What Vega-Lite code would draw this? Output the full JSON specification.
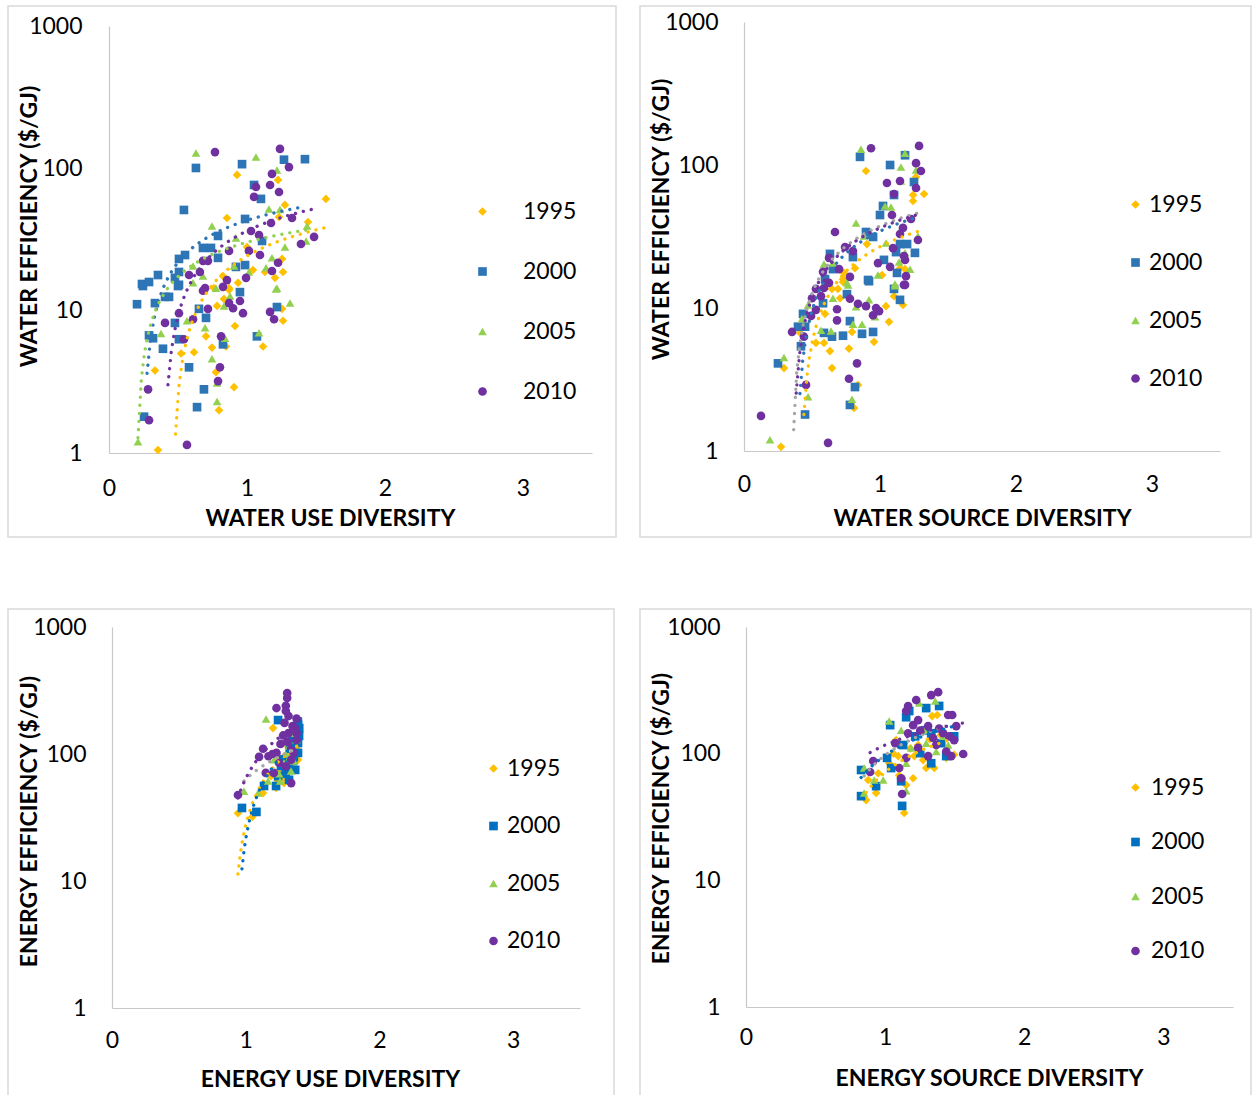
{
  "$schema": "https://vega.github.io/schema/vega-lite/v6.json",
  "padding": {"left": 7, "top": 5, "right": 0, "bottom": 0},
  "autosize": {"type": "pad"},
  "spacing": 70,
  "resolve": {"scale": {"x": "independent", "y": "independent", "color": "independent", "shape": "independent", "stroke": "independent"}, "legend": {"color": "independent", "shape": "independent"}},
  "datasets": {
    "tl": [
      {"yr":"1995","d":0.928,"e":89.9},{"yr":"1995","d":1.225,"e":82.9},{"yr":"1995","d":1.572,"e":61.0},{"yr":"1995","d":1.275,"e":55.3},{"yr":"1995","d":0.855,"e":44.8},{"yr":"1995","d":1.232,"e":45.5},{"yr":"1995","d":1.442,"e":42.0},{"yr":"1995","d":1.0,"e":28.0},{"yr":"1995","d":1.254,"e":23.1},{"yr":"1995","d":0.935,"e":15.7},{"yr":"1995","d":1.203,"e":17.0},{"yr":"1995","d":1.261,"e":18.7},{"yr":"1995","d":0.826,"e":17.5},{"yr":"1995","d":0.870,"e":14.4},{"yr":"1995","d":0.761,"e":14.4},{"yr":"1995","d":1.043,"e":19.3},{"yr":"1995","d":1.13,"e":18.7},{"yr":"1995","d":0.87,"e":14.0},{"yr":"1995","d":0.833,"e":12.1},{"yr":"1995","d":0.783,"e":10.8},{"yr":"1995","d":1.254,"e":10.3},{"yr":"1995","d":1.261,"e":8.5},{"yr":"1995","d":0.913,"e":7.8},{"yr":"1995","d":0.703,"e":6.6},{"yr":"1995","d":0.848,"e":5.6},{"yr":"1995","d":1.116,"e":5.6},{"yr":"1995","d":0.746,"e":5.5},{"yr":"1995","d":0.616,"e":5.1},{"yr":"1995","d":0.522,"e":5.0},{"yr":"1995","d":0.333,"e":3.8},{"yr":"1995","d":0.775,"e":3.7},{"yr":"1995","d":0.906,"e":2.9},{"yr":"1995","d":0.797,"e":2.0},{"yr":"1995","d":0.355,"e":1.05},
      {"yr":"2000","d":0.630,"e":100.6},{"yr":"2000","d":0.964,"e":107},{"yr":"2000","d":1.268,"e":115},{"yr":"2000","d":1.420,"e":116},{"yr":"2000","d":1.051,"e":76.4},{"yr":"2000","d":1.101,"e":61.0},{"yr":"2000","d":0.543,"e":51.0},{"yr":"2000","d":0.986,"e":44.1},{"yr":"2000","d":0.790,"e":33.5},{"yr":"2000","d":0.681,"e":27.6},{"yr":"2000","d":0.739,"e":27.6},{"yr":"2000","d":0.551,"e":24.6},{"yr":"2000","d":0.507,"e":23.1},{"yr":"2000","d":0.790,"e":23.5},{"yr":"2000","d":1.109,"e":30.9},{"yr":"2000","d":0.507,"e":18.7},{"yr":"2000","d":0.355,"e":17.8},{"yr":"2000","d":0.478,"e":17.0},{"yr":"2000","d":0.290,"e":15.9},{"yr":"2000","d":0.239,"e":15.4},{"yr":"2000","d":0.507,"e":15.2},{"yr":"2000","d":0.986,"e":20.9},{"yr":"2000","d":0.920,"e":20.3},{"yr":"2000","d":0.246,"e":14.9},{"yr":"2000","d":0.5,"e":14.9},{"yr":"2000","d":0.203,"e":11.1},{"yr":"2000","d":0.333,"e":11.3},{"yr":"2000","d":0.406,"e":12.5},{"yr":"2000","d":0.435,"e":12.5},{"yr":"2000","d":0.949,"e":13.5},{"yr":"2000","d":1.217,"e":10.6},{"yr":"2000","d":0.703,"e":8.9},{"yr":"2000","d":0.652,"e":10.3},{"yr":"2000","d":0.478,"e":8.2},{"yr":"2000","d":0.290,"e":6.7},{"yr":"2000","d":0.319,"e":6.4},{"yr":"2000","d":0.507,"e":6.3},{"yr":"2000","d":1.072,"e":6.6},{"yr":"2000","d":0.826,"e":5.8},{"yr":"2000","d":0.391,"e":5.4},{"yr":"2000","d":0.580,"e":4.0},{"yr":"2000","d":0.688,"e":2.8},{"yr":"2000","d":0.638,"e":2.1},{"yr":"2000","d":0.254,"e":1.8},
      {"yr":"2005","d":0.630,"e":128},{"yr":"2005","d":1.065,"e":120},{"yr":"2005","d":1.217,"e":97.4},{"yr":"2005","d":1.159,"e":51.8},{"yr":"2005","d":1.239,"e":51.4},{"yr":"2005","d":0.746,"e":39.4},{"yr":"2005","d":1.435,"e":39.4},{"yr":"2005","d":0.920,"e":32.4},{"yr":"2005","d":1.275,"e":28.0},{"yr":"2005","d":1.428,"e":30.9},{"yr":"2005","d":1.181,"e":23.5},{"yr":"2005","d":0.609,"e":20.6},{"yr":"2005","d":1.138,"e":20.0},{"yr":"2005","d":1.014,"e":18.7},{"yr":"2005","d":0.681,"e":17.5},{"yr":"2005","d":1.217,"e":14.4},{"yr":"2005","d":0.906,"e":20.6},{"yr":"2005","d":0.609,"e":15.7},{"yr":"2005","d":1.210,"e":14.2},{"yr":"2005","d":1.312,"e":11.3},{"yr":"2005","d":0.775,"e":14.4},{"yr":"2005","d":0.877,"e":12.7},{"yr":"2005","d":0.833,"e":10.8},{"yr":"2005","d":0.565,"e":8.5},{"yr":"2005","d":0.696,"e":7.6},{"yr":"2005","d":0.377,"e":6.9},{"yr":"2005","d":1.087,"e":7.0},{"yr":"2005","d":0.841,"e":6.4},{"yr":"2005","d":0.746,"e":4.6},{"yr":"2005","d":0.783,"e":3.1},{"yr":"2005","d":0.783,"e":2.3},{"yr":"2005","d":0.210,"e":1.2},
      {"yr":"2010","d":0.768,"e":130},{"yr":"2010","d":1.239,"e":137},{"yr":"2010","d":1.304,"e":102},{"yr":"2010","d":1.181,"e":91.4},{"yr":"2010","d":1.065,"e":74.0},{"yr":"2010","d":1.167,"e":76.4},{"yr":"2010","d":1.232,"e":68.2},{"yr":"2010","d":1.051,"e":63.0},{"yr":"2010","d":1.326,"e":44.8},{"yr":"2010","d":1.174,"e":41.3},{"yr":"2010","d":1.486,"e":33.0},{"yr":"2010","d":1.391,"e":29.4},{"yr":"2010","d":1.029,"e":36.3},{"yr":"2010","d":1.087,"e":34.0},{"yr":"2010","d":0.870,"e":26.3},{"yr":"2010","d":1.014,"e":26.3},{"yr":"2010","d":1.094,"e":24.6},{"yr":"2010","d":0.681,"e":22.4},{"yr":"2010","d":0.717,"e":22.4},{"yr":"2010","d":1.225,"e":21.7},{"yr":"2010","d":1.181,"e":19.0},{"yr":"2010","d":0.659,"e":18.7},{"yr":"2010","d":0.580,"e":17.8},{"yr":"2010","d":0.993,"e":17.0},{"yr":"2010","d":0.855,"e":16.4},{"yr":"2010","d":0.826,"e":14.7},{"yr":"2010","d":0.696,"e":14.4},{"yr":"2010","d":0.681,"e":13.8},{"yr":"2010","d":0.870,"e":11.3},{"yr":"2010","d":0.949,"e":11.7},{"yr":"2010","d":0.971,"e":9.6},{"yr":"2010","d":0.899,"e":10.4},{"yr":"2010","d":0.717,"e":10.3},{"yr":"2010","d":1.167,"e":9.8},{"yr":"2010","d":1.196,"e":8.7},{"yr":"2010","d":0.609,"e":8.7},{"yr":"2010","d":0.507,"e":9.6},{"yr":"2010","d":0.406,"e":8.2},{"yr":"2010","d":0.812,"e":6.6},{"yr":"2010","d":0.543,"e":6.3},{"yr":"2010","d":0.804,"e":4.0},{"yr":"2010","d":0.790,"e":3.2},{"yr":"2010","d":0.283,"e":2.8},{"yr":"2010","d":0.290,"e":1.7},{"yr":"2010","d":0.565,"e":1.14}
    ],
    "tr": [
      {"yr":"1995","d":0.897,"e":90.8},{"yr":"1995","d":1.265,"e":82.4},{"yr":"1995","d":1.324,"e":62.7},{"yr":"1995","d":1.243,"e":61.7},{"yr":"1995","d":1.243,"e":56.0},{"yr":"1995","d":0.904,"e":28.0},{"yr":"1995","d":0.816,"e":19.0},{"yr":"1995","d":0.735,"e":17.6},{"yr":"1995","d":1.015,"e":17.0},{"yr":"1995","d":1.147,"e":19.0},{"yr":"1995","d":1.184,"e":18.7},{"yr":"1995","d":0.728,"e":15.9},{"yr":"1995","d":0.728,"e":15.2},{"yr":"1995","d":0.647,"e":13.6},{"yr":"1995","d":0.691,"e":13.6},{"yr":"1995","d":0.706,"e":11.7},{"yr":"1995","d":1.103,"e":12.1},{"yr":"1995","d":1.169,"e":10.5},{"yr":"1995","d":1.044,"e":10.3},{"yr":"1995","d":0.596,"e":9.1},{"yr":"1995","d":1.066,"e":8.0},{"yr":"1995","d":0.794,"e":6.8},{"yr":"1995","d":0.412,"e":6.7},{"yr":"1995","d":0.956,"e":5.8},{"yr":"1995","d":0.588,"e":5.7},{"yr":"1995","d":0.529,"e":5.7},{"yr":"1995","d":0.632,"e":5.0},{"yr":"1995","d":0.772,"e":5.2},{"yr":"1995","d":0.294,"e":3.8},{"yr":"1995","d":0.647,"e":3.8},{"yr":"1995","d":0.838,"e":2.9},{"yr":"1995","d":0.809,"e":2.0},{"yr":"1995","d":0.272,"e":1.07},
      {"yr":"2000","d":0.853,"e":114},{"yr":"2000","d":1.074,"e":100},{"yr":"2000","d":1.184,"e":117},{"yr":"2000","d":1.25,"e":76},{"yr":"2000","d":1.103,"e":61.7},{"yr":"2000","d":1.022,"e":51.7},{"yr":"2000","d":1.0,"e":44.7},{"yr":"2000","d":0.897,"e":34.0},{"yr":"2000","d":0.949,"e":31.4},{"yr":"2000","d":1.147,"e":28.0},{"yr":"2000","d":1.199,"e":28.0},{"yr":"2000","d":1.118,"e":24.6},{"yr":"2000","d":1.257,"e":24.3},{"yr":"2000","d":0.632,"e":23.9},{"yr":"2000","d":0.801,"e":22.7},{"yr":"2000","d":1.029,"e":21.7},{"yr":"2000","d":0.654,"e":18.7},{"yr":"2000","d":1.125,"e":17.6},{"yr":"2000","d":0.912,"e":15.7},{"yr":"2000","d":0.596,"e":15.9},{"yr":"2000","d":0.919,"e":15.4},{"yr":"2000","d":1.103,"e":13.6},{"yr":"2000","d":1.147,"e":11.4},{"yr":"2000","d":0.757,"e":12.5},{"yr":"2000","d":0.581,"e":10.8},{"yr":"2000","d":0.434,"e":9.1},{"yr":"2000","d":0.397,"e":7.4},{"yr":"2000","d":0.449,"e":7.4},{"yr":"2000","d":0.779,"e":8.1},{"yr":"2000","d":0.588,"e":6.7},{"yr":"2000","d":0.647,"e":6.3},{"yr":"2000","d":0.728,"e":6.4},{"yr":"2000","d":0.868,"e":6.6},{"yr":"2000","d":0.949,"e":6.8},{"yr":"2000","d":0.419,"e":5.4},{"yr":"2000","d":0.25,"e":4.1},{"yr":"2000","d":0.816,"e":2.8},{"yr":"2000","d":0.779,"e":2.1},{"yr":"2000","d":0.449,"e":1.8},
      {"yr":"2005","d":0.860,"e":129},{"yr":"2005","d":1.184,"e":121},{"yr":"2005","d":1.154,"e":96.8},{"yr":"2005","d":1.265,"e":92.3},{"yr":"2005","d":1.154,"e":77.3},{"yr":"2005","d":1.037,"e":51.7},{"yr":"2005","d":1.081,"e":50.8},{"yr":"2005","d":0.824,"e":39.3},{"yr":"2005","d":0.882,"e":31.9},{"yr":"2005","d":1.044,"e":28.5},{"yr":"2005","d":1.279,"e":31.9},{"yr":"2005","d":0.588,"e":20.3},{"yr":"2005","d":0.654,"e":20.6},{"yr":"2005","d":1.140,"e":21.0},{"yr":"2005","d":1.184,"e":24.3},{"yr":"2005","d":1.221,"e":18.7},{"yr":"2005","d":0.985,"e":17.0},{"yr":"2005","d":0.757,"e":15.0},{"yr":"2005","d":1.110,"e":14.7},{"yr":"2005","d":0.765,"e":14.5},{"yr":"2005","d":1.110,"e":14.3},{"yr":"2005","d":0.654,"e":11.7},{"yr":"2005","d":0.919,"e":11.4},{"yr":"2005","d":0.471,"e":10.5},{"yr":"2005","d":0.824,"e":10.2},{"yr":"2005","d":0.963,"e":8.7},{"yr":"2005","d":0.426,"e":8.4},{"yr":"2005","d":0.801,"e":7.7},{"yr":"2005","d":0.868,"e":7.7},{"yr":"2005","d":0.566,"e":7.0},{"yr":"2005","d":0.640,"e":6.9},{"yr":"2005","d":0.294,"e":4.5},{"yr":"2005","d":0.471,"e":2.4},{"yr":"2005","d":0.794,"e":2.3},{"yr":"2005","d":0.191,"e":1.2},
      {"yr":"2010","d":0.934,"e":131},{"yr":"2010","d":1.287,"e":136},{"yr":"2010","d":1.265,"e":103},{"yr":"2010","d":1.301,"e":90.8},{"yr":"2010","d":1.147,"e":77.3},{"yr":"2010","d":1.051,"e":74.8},{"yr":"2010","d":1.265,"e":69.0},{"yr":"2010","d":1.103,"e":62.7},{"yr":"2010","d":1.088,"e":44.7},{"yr":"2010","d":1.228,"e":41.9},{"yr":"2010","d":1.169,"e":36.3},{"yr":"2010","d":1.147,"e":32.9},{"yr":"2010","d":0.669,"e":34.0},{"yr":"2010","d":1.279,"e":29.9},{"yr":"2010","d":0.743,"e":26.7},{"yr":"2010","d":0.801,"e":25.0},{"yr":"2010","d":1.096,"e":26.2},{"yr":"2010","d":0.625,"e":22.4},{"yr":"2010","d":1.176,"e":23.1},{"yr":"2010","d":1.184,"e":21.7},{"yr":"2010","d":0.985,"e":20.6},{"yr":"2010","d":1.074,"e":19.4},{"yr":"2010","d":0.581,"e":17.9},{"yr":"2010","d":0.699,"e":18.7},{"yr":"2010","d":0.779,"e":16.5},{"yr":"2010","d":1.191,"e":16.7},{"yr":"2010","d":1.184,"e":14.5},{"yr":"2010","d":0.603,"e":15.0},{"yr":"2010","d":0.529,"e":13.6},{"yr":"2010","d":0.588,"e":13.8},{"yr":"2010","d":0.625,"e":15.0},{"yr":"2010","d":1.176,"e":14.5},{"yr":"2010","d":0.5,"e":11.7},{"yr":"2010","d":0.566,"e":12.1},{"yr":"2010","d":0.779,"e":11.6},{"yr":"2010","d":0.838,"e":10.7},{"yr":"2010","d":0.897,"e":10.3},{"yr":"2010","d":0.971,"e":10.0},{"yr":"2010","d":0.993,"e":9.5},{"yr":"2010","d":0.949,"e":8.9},{"yr":"2010","d":0.684,"e":9.8},{"yr":"2010","d":0.529,"e":9.7},{"yr":"2010","d":0.493,"e":8.8},{"yr":"2010","d":0.684,"e":8.2},{"yr":"2010","d":0.353,"e":6.8},{"yr":"2010","d":0.441,"e":6.3},{"yr":"2010","d":0.831,"e":4.1},{"yr":"2010","d":0.772,"e":3.2},{"yr":"2010","d":0.456,"e":2.9},{"yr":"2010","d":0.125,"e":1.76},{"yr":"2010","d":0.618,"e":1.14}
    ],
    "bl": [
      {"yr":"1995","d":0.942,"e":34.2},{"yr":"1995","d":1.05,"e":32},{"yr":"1995","d":1.129,"e":49.2},{"yr":"1995","d":1.227,"e":54},{"yr":"1995","d":1.286,"e":59},{"yr":"1995","d":1.339,"e":78},{"yr":"1995","d":1.391,"e":90},{"yr":"1995","d":1.301,"e":98},{"yr":"1995","d":1.376,"e":122},{"yr":"1995","d":1.249,"e":88},{"yr":"1995","d":1.189,"e":67},{"yr":"1995","d":1.354,"e":118},{"yr":"1995","d":1.204,"e":160},{"yr":"1995","d":1.32,"e":112},{"yr":"1995","d":1.37,"e":105},{"yr":"1995","d":1.28,"e":66},{"yr":"1995","d":1.35,"e":85},{"yr":"1995","d":1.31,"e":82},{"yr":"1995","d":1.26,"e":75},{"yr":"1995","d":1.38,"e":110},{"yr":"1995","d":1.24,"e":62},{"yr":"1995","d":1.38,"e":150},{"yr":"1995","d":1.39,"e":170},{"yr":"1995","d":1.37,"e":135},{"yr":"1995","d":1.36,"e":125},{"yr":"1995","d":1.39,"e":140},
      {"yr":"2000","d":0.972,"e":37.6},{"yr":"2000","d":1.08,"e":35},{"yr":"2000","d":1.137,"e":56},{"yr":"2000","d":1.227,"e":56},{"yr":"2000","d":1.242,"e":67},{"yr":"2000","d":1.324,"e":62.6},{"yr":"2000","d":1.316,"e":78},{"yr":"2000","d":1.264,"e":80.5},{"yr":"2000","d":1.354,"e":88},{"yr":"2000","d":1.391,"e":102},{"yr":"2000","d":1.391,"e":122},{"yr":"2000","d":1.399,"e":139},{"yr":"2000","d":1.391,"e":170},{"yr":"2000","d":1.242,"e":185},{"yr":"2000","d":1.30,"e":70},{"yr":"2000","d":1.36,"e":95},{"yr":"2000","d":1.33,"e":110},{"yr":"2000","d":1.28,"e":90},{"yr":"2000","d":1.37,"e":75},{"yr":"2000","d":1.35,"e":130},{"yr":"2000","d":1.39,"e":150},{"yr":"2000","d":1.40,"e":160},{"yr":"2000","d":1.38,"e":135},{"yr":"2000","d":1.39,"e":180},
      {"yr":"2005","d":0.987,"e":51},{"yr":"2005","d":1.092,"e":49.2},{"yr":"2005","d":1.167,"e":61.4},{"yr":"2005","d":1.257,"e":61.4},{"yr":"2005","d":1.339,"e":73.6},{"yr":"2005","d":1.286,"e":85},{"yr":"2005","d":1.212,"e":90},{"yr":"2005","d":1.264,"e":122},{"yr":"2005","d":1.324,"e":115},{"yr":"2005","d":1.354,"e":146},{"yr":"2005","d":1.152,"e":189},{"yr":"2005","d":1.30,"e":100},{"yr":"2005","d":1.36,"e":88},{"yr":"2005","d":1.33,"e":95},{"yr":"2005","d":1.38,"e":130},{"yr":"2005","d":1.25,"e":70},
      {"yr":"2010","d":0.942,"e":47.5},{"yr":"2010","d":1.10,"e":95},{"yr":"2010","d":1.15,"e":71},{"yr":"2010","d":1.21,"e":71},{"yr":"2010","d":1.17,"e":96},{"yr":"2010","d":1.23,"e":102},{"yr":"2010","d":1.30,"e":80},{"yr":"2010","d":1.34,"e":90},{"yr":"2010","d":1.34,"e":111},{"yr":"2010","d":1.38,"e":129},{"yr":"2010","d":1.32,"e":146},{"yr":"2010","d":1.35,"e":166},{"yr":"2010","d":1.32,"e":199},{"yr":"2010","d":1.30,"e":218},{"yr":"2010","d":1.23,"e":230},{"yr":"2010","d":1.31,"e":276},{"yr":"2010","d":1.31,"e":302},{"yr":"2010","d":1.38,"e":190},{"yr":"2010","d":1.29,"e":176},{"yr":"2010","d":1.38,"e":146},{"yr":"2010","d":1.26,"e":120},{"yr":"2010","d":1.36,"e":102},{"yr":"2010","d":1.25,"e":85},{"yr":"2010","d":1.13,"e":110},{"yr":"2010","d":1.20,"e":100},{"yr":"2010","d":1.34,"e":59},{"yr":"2010","d":1.31,"e":125},{"yr":"2010","d":1.37,"e":160},{"yr":"2010","d":1.28,"e":140},{"yr":"2010","d":1.30,"e":240}
    ],
    "br": [
      {"yr":"1995","d":1.338,"e":198},{"yr":"1995","d":1.374,"e":202},{"yr":"1995","d":1.079,"e":128},{"yr":"1995","d":1.209,"e":95.7},{"yr":"1995","d":1.353,"e":77},{"yr":"1995","d":1.094,"e":95.7},{"yr":"1995","d":0.878,"e":62},{"yr":"1995","d":0.935,"e":49},{"yr":"1995","d":1.201,"e":64},{"yr":"1995","d":1.151,"e":56.5},{"yr":"1995","d":1.137,"e":34},{"yr":"1995","d":1.101,"e":67.5},{"yr":"1995","d":1.029,"e":84},{"yr":"1995","d":0.863,"e":43},{"yr":"1995","d":1.439,"e":92.6},{"yr":"1995","d":1.237,"e":117},{"yr":"1995","d":1.295,"e":77},{"yr":"1995","d":1.496,"e":98},{"yr":"1995","d":1.273,"e":89},{"yr":"1995","d":1.18,"e":110},{"yr":"1995","d":1.32,"e":130},{"yr":"1995","d":1.40,"e":140},{"yr":"1995","d":0.95,"e":70},{"yr":"1995","d":1.06,"e":100},
      {"yr":"2000","d":1.388,"e":238},{"yr":"2000","d":1.295,"e":229},{"yr":"2000","d":1.173,"e":217},{"yr":"2000","d":1.151,"e":194},{"yr":"2000","d":1.036,"e":168},{"yr":"2000","d":1.288,"e":153},{"yr":"2000","d":1.331,"e":145},{"yr":"2000","d":1.216,"e":137},{"yr":"2000","d":1.014,"e":92.6},{"yr":"2000","d":1.439,"e":95.7},{"yr":"2000","d":1.331,"e":84},{"yr":"2000","d":1.129,"e":117},{"yr":"2000","d":0.827,"e":74.3},{"yr":"2000","d":1.043,"e":77},{"yr":"2000","d":1.115,"e":60.6},{"yr":"2000","d":0.935,"e":55.4},{"yr":"2000","d":0.827,"e":46.2},{"yr":"2000","d":1.122,"e":38.7},{"yr":"2000","d":1.252,"e":101},{"yr":"2000","d":1.403,"e":121},{"yr":"2000","d":1.496,"e":137},
      {"yr":"2005","d":1.245,"e":251},{"yr":"2005","d":1.360,"e":260},{"yr":"2005","d":1.029,"e":181},{"yr":"2005","d":1.115,"e":153},{"yr":"2005","d":1.281,"e":153},{"yr":"2005","d":1.417,"e":137},{"yr":"2005","d":1.187,"e":111},{"yr":"2005","d":1.367,"e":104},{"yr":"2005","d":1.151,"e":84},{"yr":"2005","d":0.921,"e":62},{"yr":"2005","d":0.986,"e":62},{"yr":"2005","d":0.849,"e":49},{"yr":"2005","d":1.151,"e":51},{"yr":"2005","d":1.453,"e":117},{"yr":"2005","d":1.295,"e":121},{"yr":"2005","d":0.849,"e":77},
      {"yr":"2010","d":1.331,"e":290},{"yr":"2010","d":1.381,"e":306},{"yr":"2010","d":1.223,"e":265},{"yr":"2010","d":1.165,"e":238},{"yr":"2010","d":1.151,"e":217},{"yr":"2010","d":1.237,"e":184},{"yr":"2010","d":1.201,"e":168},{"yr":"2010","d":1.309,"e":165},{"yr":"2010","d":1.453,"e":202},{"yr":"2010","d":1.482,"e":202},{"yr":"2010","d":1.511,"e":165},{"yr":"2010","d":1.165,"e":145},{"yr":"2010","d":1.252,"e":152},{"yr":"2010","d":1.388,"e":158},{"yr":"2010","d":1.345,"e":133},{"yr":"2010","d":1.460,"e":137},{"yr":"2010","d":1.496,"e":128},{"yr":"2010","d":1.237,"e":111},{"yr":"2010","d":1.309,"e":95.7},{"yr":"2010","d":1.151,"e":92.6},{"yr":"2010","d":1.101,"e":77},{"yr":"2010","d":1.439,"e":104},{"yr":"2010","d":1.561,"e":99.4},{"yr":"2010","d":1.475,"e":95.7},{"yr":"2010","d":1.115,"e":64},{"yr":"2010","d":0.914,"e":87.5},{"yr":"2010","d":0.892,"e":71.6},{"yr":"2010","d":1.122,"e":48},{"yr":"2010","d":1.072,"e":121},{"yr":"2010","d":1.417,"e":145},{"yr":"2010","d":1.367,"e":117}
    ]
  },
  "vconcat": [
    {
      "hconcat": [
        {
          "width": 608, "height": 531,
          "data": {"name": "tl"},
          "encoding": {
            "x": {"field": "d", "type": "quantitative", "scale": {"domain": [0, 3.5], "range": [101, 584], "nice": false, "zero": false}, "axis": {"values": [0, 1, 2, 3], "format": "d", "title": "WATER USE DIVERSITY", "offset": -84, "labelPadding": 24, "titleX": 322, "titleY": 65, "titleBaseline": "middle"}},
            "y": {"field": "e", "type": "quantitative", "scale": {"type": "log", "domain": [1, 1000], "range": [447, 20], "nice": false}, "axis": {"values": [1, 10, 100, 1000], "format": "d", "title": "WATER EFFICIENCY ($/GJ)", "offset": -101, "labelPadding": 27, "titleX": -80, "titleY": 220, "titleBaseline": "middle"}}
          },
          "layer": [
            {
              "mark": {"type": "point", "filled": true, "size": 75, "opacity": 1},
              "encoding": {
                "color": {"field": "yr", "type": "nominal", "scale": {"domain": ["1995", "2000", "2005", "2010"], "range": ["#FFC000", "#2E75B6", "#92D050", "#7030A0"]}, "legend": {"title": null, "orient": "none", "legendX": 463, "legendY": 194, "labelOffset": 29, "rowPadding": 36}},
                "shape": {"field": "yr", "type": "nominal", "scale": {"domain": ["1995", "2000", "2005", "2010"], "range": ["diamond", "square", "triangle-up", "circle"]}}
              }
            },
            {
              "transform": [{"regression": "e", "on": "d", "groupby": ["yr"], "method": "log"}, {"filter": "datum.e >= 1"}],
              "mark": {"type": "line", "strokeWidth": 3.3, "strokeDash": [0.1, 8], "strokeCap": "round"},
              "encoding": {"stroke": {"field": "yr", "type": "nominal", "scale": {"domain": ["1995", "2000", "2005", "2010"], "range": ["#FFC000", "#2E75B6", "#92D050", "#7030A0"]}, "legend": null}}
            }
          ]
        },
        {
          "width": 611, "height": 531,
          "data": {"name": "tr"},
          "encoding": {
            "x": {"field": "d", "type": "quantitative", "scale": {"domain": [0, 3.5], "range": [104, 580], "nice": false, "zero": false}, "axis": {"values": [0, 1, 2, 3], "format": "d", "title": "WATER SOURCE DIVERSITY", "offset": -86, "labelPadding": 22, "titleX": 342, "titleY": 67, "titleBaseline": "middle"}},
            "y": {"field": "e", "type": "quantitative", "scale": {"type": "log", "domain": [1, 1000], "range": [445, 16], "nice": false}, "axis": {"values": [1, 10, 100, 1000], "format": "d", "title": "WATER EFFICIENCY ($/GJ)", "offset": -104, "labelPadding": 26, "titleX": -83, "titleY": 213, "titleBaseline": "middle"}}
          },
          "layer": [
            {
              "mark": {"type": "point", "filled": true, "size": 75, "opacity": 1},
              "encoding": {
                "color": {"field": "yr", "type": "nominal", "scale": {"domain": ["1995", "2000", "2005", "2010"], "range": ["#FFC000", "#2E75B6", "#92D050", "#7030A0"]}, "legend": {"title": null, "orient": "none", "legendX": 484, "legendY": 187, "labelOffset": 2, "rowPadding": 34}},
                "shape": {"field": "yr", "type": "nominal", "scale": {"domain": ["1995", "2000", "2005", "2010"], "range": ["diamond", "square", "triangle-up", "circle"]}}
              }
            },
            {
              "transform": [{"regression": "e", "on": "d", "groupby": ["yr"], "method": "log"}, {"filter": "datum.e >= 1"}],
              "mark": {"type": "line", "strokeWidth": 3.3, "strokeDash": [0.1, 8], "strokeCap": "round"},
              "encoding": {"stroke": {"field": "yr", "type": "nominal", "scale": {"domain": ["1995", "2000", "2005", "2010"], "range": ["#FFC000", "#2E75B6", "#A5A5A5", "#7030A0"]}, "legend": null}}
            }
          ]
        }
      ],
      "spacing": 24,
      "bounds": "flush",
      "resolve": {"scale": {"x": "independent", "y": "independent", "color": "independent", "shape": "independent", "stroke": "independent"}, "legend": {"color": "independent", "shape": "independent"}}
    },
    {
      "hconcat": [
        {
          "width": 606, "height": 487,
          "data": {"name": "bl"},
          "encoding": {
            "x": {"field": "d", "type": "quantitative", "scale": {"domain": [0, 3.5], "range": [104, 572], "nice": false, "zero": false}, "axis": {"values": [0, 1, 2, 3], "format": "d", "title": "ENERGY USE DIVERSITY", "offset": -88, "labelPadding": 21, "titleX": 322, "titleY": 71, "titleBaseline": "middle"}},
            "y": {"field": "e", "type": "quantitative", "scale": {"type": "log", "domain": [1, 1000], "range": [399, 18], "nice": false}, "axis": {"values": [1, 10, 100, 1000], "format": "d", "title": "ENERGY EFFICIENCY ($/GJ)", "offset": -104, "labelPadding": 26, "titleX": -83, "titleY": 212, "titleBaseline": "middle"}}
          },
          "layer": [
            {
              "mark": {"type": "point", "filled": true, "size": 75, "opacity": 1},
              "encoding": {
                "color": {"field": "yr", "type": "nominal", "scale": {"domain": ["1995", "2000", "2005", "2010"], "range": ["#FFC000", "#0070C0", "#92D050", "#7030A0"]}, "legend": {"title": null, "orient": "none", "legendX": 474, "legendY": 148, "labelOffset": 2, "rowPadding": 33.5}},
                "shape": {"field": "yr", "type": "nominal", "scale": {"domain": ["1995", "2000", "2005", "2010"], "range": ["diamond", "square", "triangle-up", "circle"]}}
              }
            },
            {
              "transform": [{"regression": "e", "on": "d", "groupby": ["yr"], "method": "log"}, {"filter": "datum.e >= 1"}],
              "mark": {"type": "line", "strokeWidth": 3.3, "strokeDash": [0.1, 8], "strokeCap": "round"},
              "encoding": {"stroke": {"field": "yr", "type": "nominal", "scale": {"domain": ["1995", "2000", "2005", "2010"], "range": ["#FFC000", "#0070C0", "#A5A5A5", "#7030A0"]}, "legend": null}}
            }
          ]
        },
        {
          "width": 611, "height": 487,
          "data": {"name": "br"},
          "encoding": {
            "x": {"field": "d", "type": "quantitative", "scale": {"domain": [0, 3.5], "range": [106, 593], "nice": false, "zero": false}, "axis": {"values": [0, 1, 2, 3], "format": "d", "title": "ENERGY SOURCE DIVERSITY", "offset": -89, "labelPadding": 19, "titleX": 349, "titleY": 71, "titleBaseline": "middle"}},
            "y": {"field": "e", "type": "quantitative", "scale": {"type": "log", "domain": [1, 1000], "range": [398, 18], "nice": false}, "axis": {"values": [1, 10, 100, 1000], "format": "d", "title": "ENERGY EFFICIENCY ($/GJ)", "offset": -106, "labelPadding": 26, "titleX": -85, "titleY": 209, "titleBaseline": "middle"}}
          },
          "layer": [
            {
              "mark": {"type": "point", "filled": true, "size": 75, "opacity": 1},
              "encoding": {
                "color": {"field": "yr", "type": "nominal", "scale": {"domain": ["1995", "2000", "2005", "2010"], "range": ["#FFC000", "#0070C0", "#92D050", "#7030A0"]}, "legend": {"title": null, "orient": "none", "legendX": 484, "legendY": 167, "labelOffset": 4, "rowPadding": 30.5}},
                "shape": {"field": "yr", "type": "nominal", "scale": {"domain": ["1995", "2000", "2005", "2010"], "range": ["diamond", "square", "triangle-up", "circle"]}}
              }
            },
            {
              "transform": [{"regression": "e", "on": "d", "groupby": ["yr"], "method": "log"}, {"filter": "datum.e >= 1"}],
              "mark": {"type": "line", "strokeWidth": 3.3, "strokeDash": [0.1, 8], "strokeCap": "round"},
              "encoding": {"stroke": {"field": "yr", "type": "nominal", "scale": {"domain": ["1995", "2000", "2005", "2010"], "range": ["#FFC000", "#0070C0", "#A5A5A5", "#7030A0"]}, "legend": null}}
            }
          ]
        }
      ],
      "spacing": 26,
      "bounds": "flush",
      "resolve": {"scale": {"x": "independent", "y": "independent", "color": "independent", "shape": "independent", "stroke": "independent"}, "legend": {"color": "independent", "shape": "independent"}}
    }
  ],
  "config": {
    "view": {"stroke": "#D9D9D9", "strokeWidth": 1.5},
    "font": "Lato",
    "axis": {"grid": false, "ticks": false, "tickSize": 0, "domainColor": "#C8C8C8", "domainWidth": 1.2, "labelFont": "Lato", "labelFontSize": 23, "labelColor": "#000000", "titleFont": "Lato", "titleFontSize": 23, "titleFontWeight": "bold", "titleColor": "#000000", "labelFlush": false, "labelOverlap": false},
    "legend": {"labelFont": "Lato", "labelFontSize": 23, "labelColor": "#000000", "symbolSize": 75, "symbolStrokeWidth": 0, "padding": 0}
  }
}
